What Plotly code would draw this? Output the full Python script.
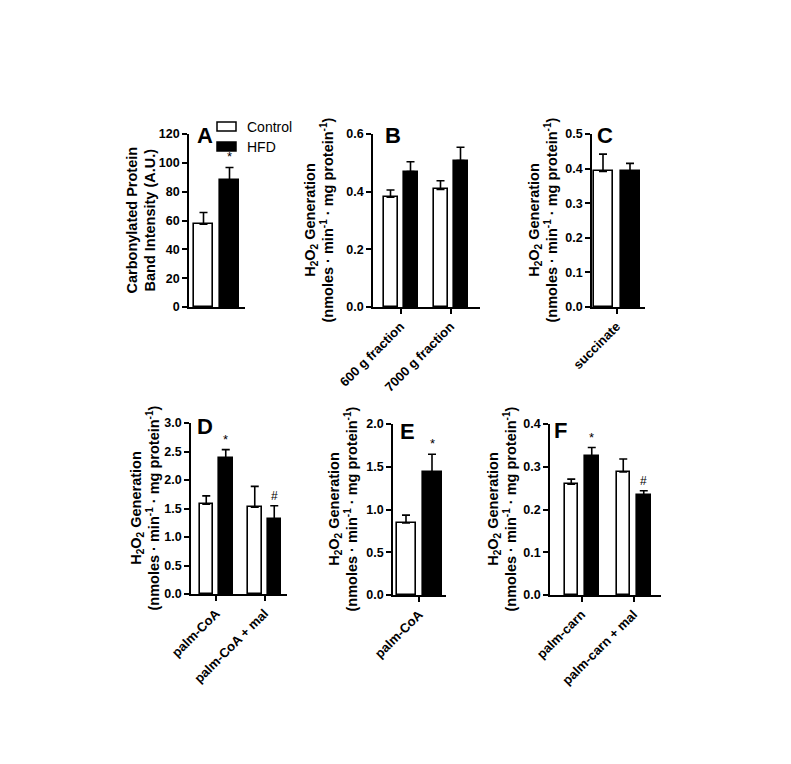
import plotly.graph_objects as go

FONT = "Liberation Sans, Arial, sans-serif"
PAGE_MARGIN = 8  # default body margin of the html page
W, H = 791 - 2 * PAGE_MARGIN, 764 - 2 * PAGE_MARGIN

# ---- data ----
a_cats = ["protein"]
a_ctrl = [57.4]
a_ctrl_err = [8.2]
a_hfd = [88.0]
a_hfd_err = [8.8]
a_marks = ["*"]

b_cats = ["600 g fraction", "7000 g fraction"]
b_ctrl = [0.381, 0.408]
b_ctrl_err = [0.025, 0.030]
b_hfd = [0.470, 0.508]
b_hfd_err = [0.034, 0.046]
b_marks = ["", ""]

c_cats = ["succinate"]
c_ctrl = [0.392]
c_ctrl_err = [0.050]
c_hfd = [0.393]
c_hfd_err = [0.022]
c_marks = [""]

d_cats = ["palm-CoA", "palm-CoA + mal"]
d_ctrl = [1.576, 1.523]
d_ctrl_err = [0.145, 0.365]
d_hfd = [2.384, 1.318]
d_hfd_err = [0.150, 0.230]
d_marks = ["*", "#"]

e_cats = ["palm-CoA"]
e_ctrl = [0.844]
e_ctrl_err = [0.090]
e_hfd = [1.441]
e_hfd_err = [0.205]
e_marks = ["*"]

f_cats = ["palm-carn", "palm-carn + mal"]
f_ctrl = [0.259, 0.288]
f_ctrl_err = [0.012, 0.030]
f_hfd = [0.325, 0.234]
f_hfd_err = [0.020, 0.010]
f_marks = ["*", "#"]

H2O2_TITLE = ("<b>H<sub>2</sub>O<sub>2</sub> Generation<br>"
              "(nmoles · min<sup>-1</sup> · mg protein<sup>-1</sup>)</b>")


def px_x(px):
    return (px - PAGE_MARGIN) / W


def px_y(py):
    return 1 - (py - PAGE_MARGIN) / H


panels = [
    dict(letter="A", cats=a_cats, ctrl=a_ctrl, ctrl_err=a_ctrl_err, hfd=a_hfd, hfd_err=a_hfd_err,
         marks=a_marks, ymax=120, dtick=20, fmt="d", xlabels=False,
         title="<b>Carbonylated Protein<br>Band Intensity (A.U.)</b>",
         geo=(189, 245, 216.5, 50, 19, 7, 134, 307), tx=141, lx=(195, 121)),
    dict(letter="B", cats=b_cats, ctrl=b_ctrl, ctrl_err=b_ctrl_err, hfd=b_hfd, hfd_err=b_hfd_err,
         marks=b_marks, ymax=0.6, dtick=0.2, fmt=".1f", xlabels=True, title=H2O2_TITLE,
         geo=(373, 480, 400.5, 50, 14, 6, 134, 307), tx=319, lx=(383, 121)),
    dict(letter="C", cats=c_cats, ctrl=c_ctrl, ctrl_err=c_ctrl_err, hfd=c_hfd, hfd_err=c_hfd_err,
         marks=c_marks, ymax=0.5, dtick=0.1, fmt=".1f", xlabels=True, title=H2O2_TITLE,
         geo=(592, 645, 616.5, 50, 19, 8, 134, 307), tx=543, lx=(595, 121)),
    dict(letter="D", cats=d_cats, ctrl=d_ctrl, ctrl_err=d_ctrl_err, hfd=d_hfd, hfd_err=d_hfd_err,
         marks=d_marks, ymax=3.0, dtick=0.5, fmt=".1f", xlabels=True, title=H2O2_TITLE,
         geo=(191, 287, 216, 48.5, 13.5, 6, 423, 594), tx=145, lx=(195, 412)),
    dict(letter="E", cats=e_cats, ctrl=e_ctrl, ctrl_err=e_ctrl_err, hfd=e_hfd, hfd_err=e_hfd_err,
         marks=e_marks, ymax=2.0, dtick=0.5, fmt=".1f", xlabels=True, title=H2O2_TITLE,
         geo=(393, 446, 419, 50, 19, 7, 424, 595), tx=343, lx=(398, 417)),
    dict(letter="F", cats=f_cats, ctrl=f_ctrl, ctrl_err=f_ctrl_err, hfd=f_hfd, hfd_err=f_hfd_err,
         marks=f_marks, ymax=0.4, dtick=0.1, fmt=".1f", xlabels=True, title=H2O2_TITLE,
         geo=(550, 661, 581.5, 52, 13.5, 7, 424, 595), tx=502, lx=(552, 416)),
]

fig = go.Figure()
annotations = []
layout_axes = {}

for i, p in enumerate(panels, start=1):
    L, R, T, S, bw, gap, ytop, ybot = p["geo"]
    xa, ya = f"x{i}", f"y{i}"
    n = len(p["cats"])
    for vals, errs, color, off in [
        (p["ctrl"], p["ctrl_err"], "white", -(bw + gap / 2) / S),
        (p["hfd"], p["hfd_err"], "black", (gap / 2) / S),
    ]:
        fig.add_trace(go.Bar(
            x=p["cats"], y=vals, xaxis=xa, yaxis=ya, width=bw / S, offset=off,
            marker=dict(color=color, line=dict(color="black", width=1.6)),
            error_y=dict(type="data", array=errs, arrayminus=[0] * n, symmetric=False,
                         color="black", thickness=1.6, width=4),
            showlegend=False, hoverinfo="skip",
        ))
    for cat, val, err, mark in zip(p["cats"], p["hfd"], p["hfd_err"], p["marks"]):
        if mark:
            annotations.append(dict(
                x=cat, y=val + err, xref=xa, yref=ya, text=mark, showarrow=False,
                xshift=gap / 2 + bw / 2, yanchor="bottom", yshift=1,
                font=dict(family=FONT, size=13 if mark == "*" else 12, color="black"),
            ))
    suffix = "" if i == 1 else str(i)
    layout_axes["xaxis" + suffix] = dict(
        domain=[px_x(L), px_x(R)], anchor=ya, type="category", automargin=False,
        range=[(L - T) / S, (R - T) / S],
        showline=True, linecolor="black", linewidth=1.6,
        ticks="outside" if p["xlabels"] else "", ticklen=5, tickwidth=1.6, tickcolor="black",
        showticklabels=p["xlabels"], tickangle=-45,
        tickfont=dict(family=FONT, size=13, color="black", weight="bold"),
        showgrid=False, zeroline=False, fixedrange=True,
    )
    layout_axes["yaxis" + suffix] = dict(
        domain=[px_y(ybot), px_y(ytop)], anchor=xa, automargin=False,
        range=[0, p["ymax"] * 1.0001], dtick=p["dtick"], tick0=0, tickformat=p["fmt"],
        showline=True, linecolor="black", linewidth=1.6,
        ticks="outside", ticklen=5, tickwidth=1.6, tickcolor="black",
        tickfont=dict(family=FONT, size=12.5, color="black", weight="bold"),
        showgrid=False, zeroline=False, fixedrange=True,
    )
    # axis title
    annotations.append(dict(
        x=px_x(p["tx"]), y=px_y((ytop + ybot) / 2), xref="paper", yref="paper",
        text=p["title"], textangle=-90, showarrow=False, xanchor="center", yanchor="middle",
        font=dict(family=FONT, size=14.5, color="black"),
    ))
    # panel letter
    annotations.append(dict(
        x=px_x(p["lx"][0]), y=px_y(p["lx"][1]), xref="paper", yref="paper",
        text=f"<b>{p['letter']}</b>", showarrow=False, xanchor="left", yanchor="top",
        font=dict(family=FONT, size=22, color="black"),
    ))

# legend drawn in panel A
shapes = []
for label, color, y0 in [("Control", "white", 122), ("HFD", "black", 142)]:
    shapes.append(dict(type="rect", xref="paper", yref="paper",
                       x0=px_x(217), x1=px_x(236), y0=px_y(y0), y1=px_y(y0 + 9),
                       fillcolor=color, line=dict(color="black", width=1.5)))
    annotations.append(dict(x=px_x(245), y=px_y(y0 + 4.5), xref="paper", yref="paper",
                            text=label, showarrow=False, xanchor="left", yanchor="middle",
                            font=dict(family=FONT, size=14, color="black")))

fig.update_layout(
    width=W, height=H, margin=dict(l=0, r=0, t=0, b=0),
    paper_bgcolor="white", plot_bgcolor="white",
    annotations=annotations, shapes=shapes, bargap=0,
    **layout_axes,
)

fig.write_html("out.html")
